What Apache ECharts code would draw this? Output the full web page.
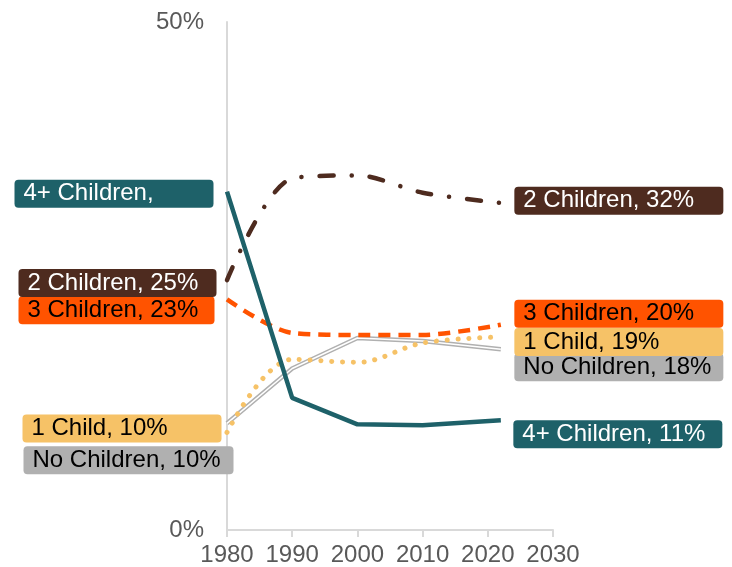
<!DOCTYPE html>
<html>
<head>
<meta charset="utf-8">
<script src="https://cdn.jsdelivr.net/npm/echarts@6/dist/echarts.min.js"></script>
<style>
  html, body { margin: 0; padding: 0; background: #fff; }
  #chart { width: 732px; height: 567px; }
</style>
</head>
<body>
<div id="chart"></div>
<script>
// Share of households by number of children, 1980-2022
var years = [1980, 1990, 2000, 2010, 2022];
var noChildren = [10.5, 15.9, 18.9, 18.6, 17.8];
var oneChild = [9.6, 16.8, 16.5, 18.4, 19.0];
var threeChildren = [22.7, 19.4, 19.2, 19.2, 20.2];
var twoChildren = [24.6, 34.6, 34.9, 33.2, 32.2];
var fourPlus = [33.3, 13.0, 10.4, 10.3, 10.8];

var startLabels = {
    noChildren: 'No Children, 10%',
    oneChild: '1 Child, 10%',
    threeChildren: '3 Children, 23%',
    twoChildren: '2 Children, 25%',
    fourPlus: '4+ Children,'
};
var endLabels = {
    noChildren: 'No Children, 18%',
    oneChild: '1 Child, 19%',
    threeChildren: '3 Children, 20%',
    twoChildren: '2 Children, 32%',
    fourPlus: '4+ Children, 11%'
};

var FONT = '"Liberation Sans", Arial, sans-serif';

// box placement of the callouts: [left offset from point, vertical offset, box width]
var startBox = {
    fourPlus: [-213, 2, 199],
    twoChildren: [-209, 3, 198],
    threeChildren: [-209, 11, 196],
    oneChild: [-205, -4, 199],
    noChildren: [-204, 37, 210]
};
var endBox = {
    twoChildren: [13, -2, 209],
    threeChildren: [13, -11, 209],
    oneChild: [13, 5, 209],
    noChildren: [13, 18, 209],
    fourPlus: [12, 14, 209]
};

function boxLabel(text, box, bg, fg) {
    return {
        show: true,
        position: 'right',
        distance: 0,
        align: 'left',
        verticalAlign: 'middle',
        offset: [box[0], box[1]],
        formatter: text,
        width: box[2] - 11,
        overflow: 'none',
        backgroundColor: bg,
        borderRadius: 4,
        padding: [2, 2, 2, 9],
        color: fg,
        fontSize: 24,
        fontFamily: FONT,
        lineHeight: 24
    };
}

function buildData(key, values, bg, fg) {
    return values.map(function (v, i) {
        var item = { value: [years[i], v] };
        if (i === 0) {
            item.label = boxLabel(startLabels[key], startBox[key], bg, fg);
        } else if (i === values.length - 1) {
            item.label = boxLabel(endLabels[key], endBox[key], bg, fg);
        } else {
            item.label = { show: false };
        }
        return item;
    });
}

function lineSeries(name, data, color, width, type, smooth, cap) {
    return {
        name: name,
        type: 'line',
        data: data,
        smooth: smooth,
        symbol: 'circle',
        symbolSize: 1,
        showSymbol: true,
        itemStyle: { color: 'transparent' },
        lineStyle: { color: color, width: width, type: type, cap: cap || 'butt' },
        emphasis: { disabled: true },
        silent: true
    };
}

var TEAL = '#1E6169';
var BROWN = '#4E2B1F';
var ORANGE = '#FF5300';
var YELLOW = '#F6C267';
var GREY = '#B0B0B0';

var chart = echarts.init(document.getElementById('chart'), null, { renderer: 'canvas' });

chart.setOption({
    animation: false,
    grid: { left: 227, right: 179, top: 22, bottom: 37, containLabel: false },
    xAxis: {
        type: 'value',
        min: 1980,
        max: 2030,
        interval: 10,
        axisLine: { show: true, lineStyle: { color: '#D9D9D9', width: 2 } },
        axisTick: { show: true, length: 7, lineStyle: { color: '#D9D9D9', width: 2 } },
        splitLine: { show: false },
        axisLabel: {
            color: '#595959', fontSize: 24, fontFamily: FONT, margin: 13,
            formatter: function (v) { return String(v); }
        }
    },
    yAxis: {
        type: 'value',
        min: 0,
        max: 50,
        interval: 50,
        axisLine: { show: true, lineStyle: { color: '#D9D9D9', width: 2 } },
        axisTick: { show: false },
        splitLine: { show: false },
        axisLabel: { color: '#595959', fontSize: 24, fontFamily: FONT, margin: 23, formatter: '{value}%' }
    },
    series: [
        lineSeries('No Children', buildData('noChildren', noChildren, GREY, '#000'), GREY, 4.5, 'solid', false),
        lineSeries('No Children inner', noChildren.map(function (v, i) { return [years[i], v]; }), '#FFFFFF', 1.5, 'solid', false),
        lineSeries('1 Child', buildData('oneChild', oneChild, YELLOW, '#000'), YELLOW, 5, [0.1, 10.7], 0.35, 'round'),
        lineSeries('3 Children', buildData('threeChildren', threeChildren, ORANGE, '#000'), ORANGE, 4.5, [12, 8], 0.3),
        lineSeries('2 Children', buildData('twoChildren', twoChildren, BROWN, '#FFF'), BROWN, 4.5, [14, 18, 0.1, 18], 0.3, 'round'),
        lineSeries('4+ Children', buildData('fourPlus', fourPlus, TEAL, '#FFF'), TEAL, 4.5, 'solid', false)
    ]
});
</script>
</body>
</html>
